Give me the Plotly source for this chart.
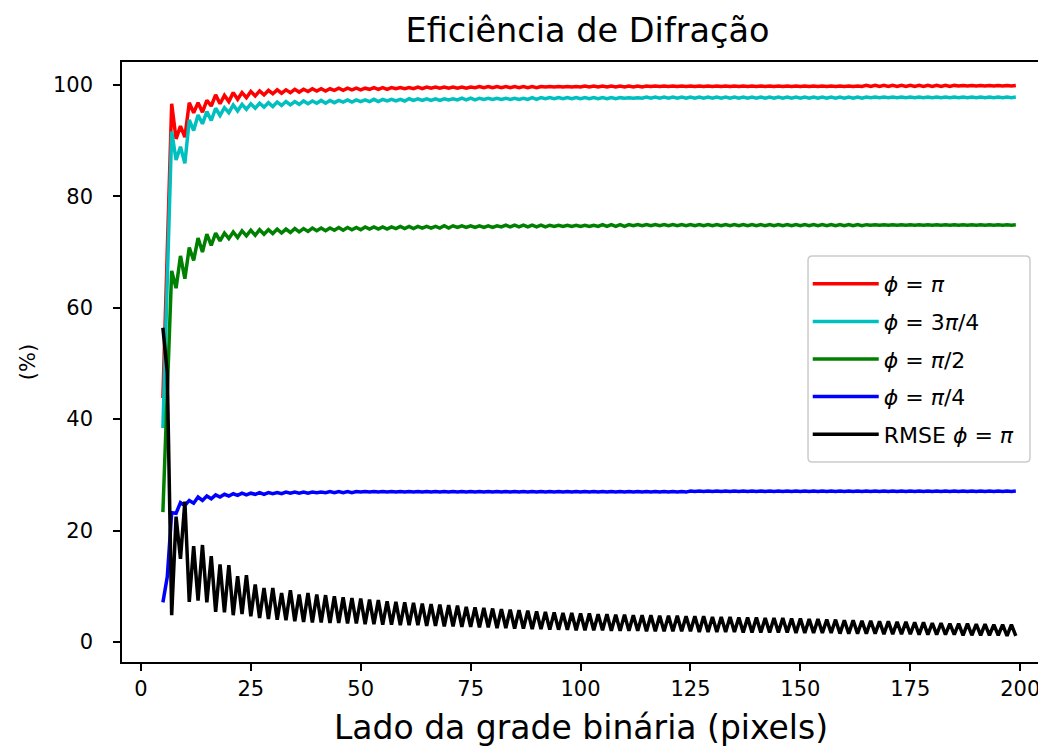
import plotly.graph_objects as go

x_vals = list(range(5, 200))

eff_pi = [
    43.8, 70.5, 96.6, 90.3, 92.6, 90.6, 96.8, 95.0, 96.8, 95.1, 97.2, 96.2, 98.2, 96.6, 98.1, 97.0, 98.6, 97.4, 98.6, 97.7,
    98.8, 98.0, 98.9, 98.2, 99.0, 98.4, 99.1, 98.5, 99.1, 98.6, 99.2, 98.7, 99.2, 98.8, 99.3, 98.9, 99.3, 98.9, 99.3, 99.0,
    99.4, 99.0, 99.4, 99.1, 99.4, 99.1, 99.4, 99.2, 99.5, 99.2, 99.5, 99.2, 99.5, 99.3, 99.5, 99.3, 99.5, 99.3, 99.6, 99.3,
    99.6, 99.4, 99.6, 99.4, 99.6, 99.4, 99.6, 99.4, 99.6, 99.4, 99.6, 99.5, 99.7, 99.5, 99.7, 99.5, 99.7, 99.5, 99.7, 99.5,
    99.7, 99.5, 99.7, 99.5, 99.7, 99.5, 99.7, 99.6, 99.7, 99.6, 99.7, 99.6, 99.7, 99.6, 99.7, 99.6, 99.8, 99.6, 99.8, 99.6,
    99.8, 99.6, 99.8, 99.6, 99.8, 99.6, 99.8, 99.6, 99.8, 99.6, 99.8, 99.7, 99.8, 99.7, 99.8, 99.7, 99.8, 99.7, 99.8, 99.7,
    99.8, 99.7, 99.8, 99.7, 99.8, 99.7, 99.8, 99.7, 99.8, 99.7, 99.8, 99.7, 99.8, 99.7, 99.8, 99.7, 99.8, 99.7, 99.8, 99.7,
    99.8, 99.7, 99.8, 99.7, 99.8, 99.7, 99.8, 99.7, 99.8, 99.7, 99.8, 99.7, 99.8, 99.7, 99.8, 99.7, 99.8, 99.7, 99.8, 99.7,
    99.9, 99.7, 99.9, 99.7, 99.9, 99.7, 99.9, 99.7, 99.9, 99.7, 99.9, 99.7, 99.9, 99.7, 99.9, 99.7, 99.9, 99.7, 99.9, 99.7,
    99.9, 99.8, 99.9, 99.8, 99.9, 99.8, 99.9, 99.8, 99.9, 99.8, 99.9, 99.8, 99.9, 99.8, 99.9,
]

eff_3pi4 = [
    38.4, 65.0, 91.6, 86.5, 88.9, 85.9, 93.7, 91.8, 94.6, 93.0, 95.2, 93.6, 95.8, 94.5, 95.9, 95.0, 96.4, 95.3, 96.5, 95.6,
    96.6, 95.8, 96.7, 96.0, 96.8, 96.1, 96.9, 96.3, 97.0, 96.4, 97.0, 96.5, 97.1, 96.6, 97.1, 96.7, 97.2, 96.7, 97.2, 96.8,
    97.2, 96.9, 97.3, 96.9, 97.3, 97.0, 97.3, 97.0, 97.4, 97.0, 97.4, 97.1, 97.4, 97.1, 97.4, 97.1, 97.5, 97.2, 97.5, 97.2,
    97.5, 97.2, 97.5, 97.2, 97.5, 97.3, 97.5, 97.3, 97.6, 97.3, 97.6, 97.3, 97.6, 97.4, 97.6, 97.4, 97.6, 97.4, 97.6, 97.4,
    97.6, 97.4, 97.6, 97.4, 97.7, 97.4, 97.7, 97.5, 97.7, 97.5, 97.7, 97.5, 97.7, 97.5, 97.7, 97.5, 97.7, 97.5, 97.7, 97.5,
    97.7, 97.5, 97.7, 97.5, 97.7, 97.6, 97.7, 97.6, 97.7, 97.6, 97.8, 97.6, 97.8, 97.6, 97.8, 97.6, 97.8, 97.6, 97.8, 97.6,
    97.8, 97.6, 97.8, 97.6, 97.8, 97.6, 97.8, 97.6, 97.8, 97.6, 97.8, 97.6, 97.8, 97.6, 97.8, 97.6, 97.8, 97.6, 97.8, 97.6,
    97.8, 97.6, 97.8, 97.6, 97.8, 97.6, 97.8, 97.6, 97.8, 97.6, 97.8, 97.6, 97.8, 97.6, 97.8, 97.6, 97.8, 97.6, 97.8, 97.6,
    97.8, 97.7, 97.8, 97.7, 97.8, 97.7, 97.8, 97.7, 97.8, 97.7, 97.8, 97.7, 97.8, 97.7, 97.8, 97.7, 97.8, 97.7, 97.8, 97.7,
    97.8, 97.7, 97.8, 97.7, 97.8, 97.7, 97.8, 97.7, 97.8, 97.7, 97.8, 97.7, 97.8, 97.7, 97.8,
]

eff_pi2 = [
    23.3, 45.0, 66.6, 63.5, 69.3, 65.2, 70.8, 68.5, 72.5, 70.0, 73.2, 71.2, 73.4, 72.0, 73.4, 72.4, 73.6, 72.6, 73.8, 72.9,
    73.9, 73.0, 74.0, 73.2, 74.0, 73.3, 74.1, 73.4, 74.1, 73.5, 74.2, 73.6, 74.2, 73.7, 74.3, 73.8, 74.3, 73.8, 74.3, 73.9,
    74.4, 73.9, 74.4, 74.0, 74.4, 74.0, 74.5, 74.1, 74.5, 74.1, 74.5, 74.1, 74.5, 74.2, 74.6, 74.2, 74.6, 74.2, 74.6, 74.3,
    74.6, 74.3, 74.6, 74.3, 74.7, 74.3, 74.7, 74.4, 74.7, 74.4, 74.7, 74.4, 74.7, 74.4, 74.7, 74.4, 74.7, 74.5, 74.8, 74.5,
    74.8, 74.5, 74.8, 74.5, 74.8, 74.5, 74.8, 74.5, 74.8, 74.6, 74.8, 74.6, 74.8, 74.6, 74.8, 74.6, 74.8, 74.6, 74.8, 74.6,
    74.9, 74.6, 74.9, 74.6, 74.9, 74.6, 74.9, 74.7, 74.9, 74.7, 74.9, 74.7, 74.9, 74.7, 74.9, 74.7, 74.9, 74.7, 74.9, 74.7,
    74.9, 74.7, 74.9, 74.7, 74.9, 74.7, 74.9, 74.7, 74.9, 74.7, 74.9, 74.7, 74.9, 74.7, 74.9, 74.7, 74.9, 74.7, 74.9, 74.7,
    74.9, 74.7, 74.9, 74.7, 74.9, 74.7, 74.9, 74.7, 74.9, 74.7, 74.9, 74.7, 74.9, 74.7, 74.9, 74.7, 74.9, 74.7, 74.9, 74.7,
    74.9, 74.8, 74.9, 74.8, 74.9, 74.8, 74.9, 74.8, 74.9, 74.8, 74.9, 74.8, 74.9, 74.8, 74.9, 74.8, 74.9, 74.8, 74.9, 74.8,
    74.9, 74.8, 74.9, 74.8, 74.9, 74.8, 74.9, 74.8, 74.9, 74.8, 74.9, 74.8, 74.9, 74.8, 74.9,
]

eff_pi4 = [
    7.1, 11.7, 23.2, 23.1, 25.0, 24.5, 25.4, 24.9, 26.0, 25.4, 26.2, 25.7, 26.4, 26.0, 26.5, 26.2, 26.6, 26.3, 26.7, 26.4,
    26.7, 26.5, 26.8, 26.5, 26.8, 26.6, 26.8, 26.6, 26.9, 26.7, 26.9, 26.7, 26.9, 26.7, 26.9, 26.8, 26.9, 26.8, 27.0, 26.8,
    27.0, 26.8, 27.0, 26.8, 27.0, 26.9, 27.0, 26.9, 27.0, 26.9, 27.0, 26.9, 27.0, 26.9, 27.0, 26.9, 27.0, 26.9, 27.0, 26.9,
    27.0, 26.9, 27.0, 26.9, 27.0, 26.9, 27.0, 26.9, 27.0, 26.9, 27.0, 26.9, 27.0, 26.9, 27.0, 26.9, 27.0, 26.9, 27.0, 26.9,
    27.0, 26.9, 27.0, 26.9, 27.0, 26.9, 27.0, 26.9, 27.0, 26.9, 27.0, 26.9, 27.0, 26.9, 27.0, 26.9, 27.0, 26.9, 27.0, 26.9,
    27.0, 26.9, 27.0, 26.9, 27.0, 26.9, 27.0, 26.9, 27.0, 26.9, 27.0, 26.9, 27.0, 26.9, 27.0, 26.9, 27.0, 26.9, 27.0, 26.9,
    27.1, 27.0, 27.1, 27.0, 27.1, 27.0, 27.1, 27.0, 27.1, 27.0, 27.1, 27.0, 27.1, 27.0, 27.1, 27.0, 27.1, 27.0, 27.1, 27.0,
    27.1, 27.0, 27.1, 27.0, 27.1, 27.0, 27.1, 27.0, 27.1, 27.0, 27.1, 27.0, 27.1, 27.0, 27.1, 27.0, 27.1, 27.0, 27.1, 27.0,
    27.1, 27.0, 27.1, 27.0, 27.1, 27.0, 27.1, 27.0, 27.1, 27.0, 27.1, 27.0, 27.1, 27.0, 27.1, 27.0, 27.1, 27.0, 27.1, 27.0,
    27.1, 27.0, 27.1, 27.0, 27.1, 27.0, 27.1, 27.0, 27.1, 27.0, 27.1, 27.0, 27.1, 27.0, 27.1,
]

rmse_pi = [
    56.4, 48.3, 4.8, 22.5, 14.9, 25.2, 7.2, 17.2, 7.4, 17.4, 7.1, 15.4, 5.4, 13.9, 5.3, 13.8, 4.8, 11.8, 5.0, 12.0,
    4.6, 10.3, 4.3, 9.7, 4.1, 9.7, 4.0, 8.8, 3.9, 9.3, 3.7, 8.5, 3.6, 8.8, 3.5, 8.5, 3.5, 8.4, 3.4, 8.2,
    3.4, 8.0, 3.3, 7.9, 3.3, 7.8, 3.2, 7.6, 3.2, 7.5, 3.1, 7.3, 3.1, 7.2, 3.0, 7.1, 3.0, 7.0, 3.0, 6.9,
    2.9, 6.8, 2.9, 6.7, 2.8, 6.6, 2.8, 6.5, 2.7, 6.3, 2.7, 6.2, 2.6, 6.1, 2.6, 6.0, 2.5, 5.9, 2.5, 5.8,
    2.4, 5.7, 2.4, 5.6, 2.3, 5.5, 2.3, 5.4, 2.2, 5.3, 2.2, 5.2, 2.2, 5.2, 2.1, 5.1, 2.1, 5.1, 2.1, 5.0,
    2.1, 5.0, 2.0, 4.9, 2.0, 4.9, 2.0, 4.8, 2.0, 4.8, 1.9, 4.8, 1.9, 4.7, 1.9, 4.7, 1.9, 4.7, 1.9, 4.6,
    1.9, 4.6, 1.8, 4.6, 1.8, 4.5, 1.8, 4.5, 1.8, 4.5, 1.8, 4.4, 1.7, 4.4, 1.7, 4.4, 1.7, 4.3, 1.7, 4.3,
    1.7, 4.3, 1.7, 4.2, 1.6, 4.2, 1.6, 4.1, 1.6, 4.1, 1.6, 4.0, 1.6, 4.0, 1.5, 3.9, 1.5, 3.9, 1.5, 3.8,
    1.5, 3.8, 1.5, 3.7, 1.4, 3.7, 1.4, 3.6, 1.4, 3.6, 1.4, 3.5, 1.3, 3.5, 1.3, 3.4, 1.3, 3.4, 1.3, 3.3,
    1.3, 3.3, 1.2, 3.3, 1.2, 3.2, 1.2, 3.2, 1.2, 3.1, 1.2, 3.1, 1.1, 3.1, 1.1,
]

series = [
    ("<i>ϕ</i> = <i>π</i>", eff_pi, "#ff0000"),
    ("<i>ϕ</i> = 3<i>π</i>/4", eff_3pi4, "#00bfbf"),
    ("<i>ϕ</i> = <i>π</i>/2", eff_pi2, "#008000"),
    ("<i>ϕ</i> = <i>π</i>/4", eff_pi4, "#0000ff"),
    ("RMSE <i>ϕ</i> = <i>π</i>", rmse_pi, "#000000"),
]

FONT = "DejaVu Sans"

fig = go.Figure()
for i, (name, ys, color) in enumerate(series):
    fig.add_trace(go.Scatter(
        x=x_vals, y=ys, mode="lines", name=name,
        line=dict(color=color, width=3.5),
        legendgroup=f"g{i}",
    ))

# legend frame (rounded box like matplotlib's)
bx0, bx1, by0, by1 = 0.7473, 0.9891, 0.3333, 0.6767
rx, ry = 0.0048, 0.0072
frame_path = (
    f"M {bx0+rx},{by1} L {bx1-rx},{by1} Q {bx1},{by1} {bx1},{by1-ry} "
    f"L {bx1},{by0+ry} Q {bx1},{by0} {bx1-rx},{by0} "
    f"L {bx0+rx},{by0} Q {bx0},{by0} {bx0},{by0+ry} "
    f"L {bx0},{by1-ry} Q {bx0},{by1} {bx0+rx},{by1} Z"
)

fig.update_layout(
    width=1046, height=753,
    margin=dict(l=114, r=14, t=54, b=99),
    paper_bgcolor="white", plot_bgcolor="white",
    font=dict(family=FONT, size=21, color="black"),
    title=dict(text="Eficiência de Difração", x=0.554, xanchor="center",
               y=0.971, yanchor="middle", font=dict(family=FONT, size=33.5)),
    showlegend=True,
    legend=dict(x=0.747, y=0.665, xanchor="left", yanchor="top",
                bgcolor="rgba(0,0,0,0)", borderwidth=0,
                font=dict(family=FONT, size=22), tracegroupgap=6, itemwidth=66),
    shapes=[dict(type="path", xref="paper", yref="paper", path=frame_path,
                 line=dict(color="#cccccc", width=1.5),
                 fillcolor="rgba(255,255,255,0.8)", layer="above")],
)
fig.update_xaxes(
    range=[-4.3, 204.5], tickmode="array", tickvals=[0, 25, 50, 75, 100, 125, 150, 175, 200],
    ticks="outside", ticklen=7, tickwidth=1.5, tickcolor="black",
    showline=True, linecolor="black", linewidth=1.5, mirror=True,
    showgrid=False, zeroline=False,
    title=dict(text="Lado da grade binária (pixels)", font=dict(family=FONT, size=33), standoff=16),
    tickfont=dict(family=FONT, size=21),
)
fig.update_yaxes(
    range=[-3.6, 104.1], tickmode="array", tickvals=[0, 20, 40, 60, 80, 100],
    ticks="outside", ticklen=7, tickwidth=1.5, tickcolor="black",
    showline=True, linecolor="black", linewidth=1.5, mirror=True,
    showgrid=False, zeroline=False, ticklabelstandoff=16,
    title=dict(text="(%)", font=dict(family=FONT, size=21), standoff=12),
    tickfont=dict(family=FONT, size=21),
)

fig.write_html("out.html")
